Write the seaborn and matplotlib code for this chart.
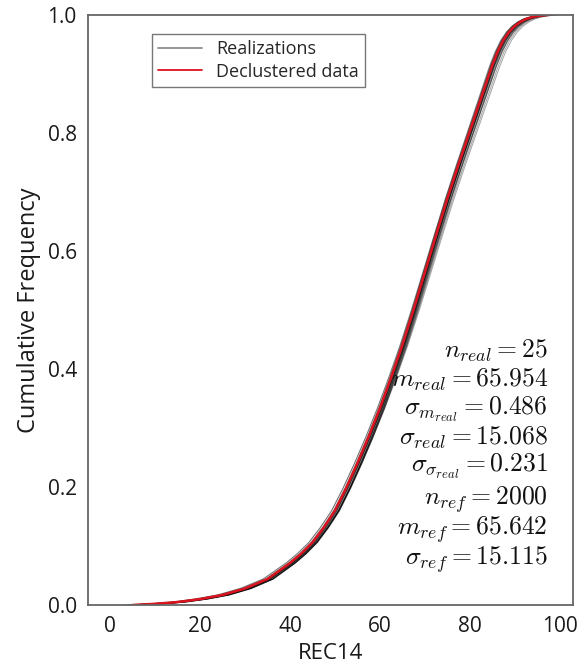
import numpy as np
import pandas as pd
import matplotlib
matplotlib.use("Agg")
import matplotlib.pyplot as plt
from matplotlib.lines import Line2D
import seaborn as sns

# Declustered reference distribution: REC14 value vs cumulative frequency
ref_values = [5.0, 10.0, 15.0, 20.0, 25.0, 30.0, 35.0, 40.0, 42.5, 45.0, 47.5,
              50.0, 52.5, 55.0, 57.5, 60.0, 62.5, 65.0, 67.5, 70.0, 72.5, 75.0,
              77.5, 80.0, 82.5, 85.0, 86.25, 87.5, 88.75, 90.0, 91.25, 92.5,
              93.75, 95.0, 96.25, 97.5]
ref_cdf = [0.0, 0.002, 0.005, 0.010, 0.017, 0.028, 0.044, 0.071, 0.087, 0.106,
           0.131, 0.160, 0.198, 0.240, 0.285, 0.333, 0.385, 0.440, 0.500, 0.563,
           0.626, 0.688, 0.746, 0.802, 0.858, 0.914, 0.938, 0.957, 0.971, 0.981,
           0.988, 0.993, 0.9960, 0.9980, 0.9993, 1.0]

# Per-realization mean and standard deviation
real_means = [65.42, 66.31, 65.88, 66.57, 65.21, 66.02, 65.76, 66.44, 65.97,
              65.33, 66.89, 65.64, 66.15, 65.91, 66.72, 65.48, 66.08, 65.59,
              66.38, 65.83, 66.21, 65.12, 66.63, 65.95, 66.19]
real_stds = [15.21, 14.85, 15.33, 14.97, 15.42, 15.06, 14.79, 15.18, 15.27,
             14.92, 15.51, 15.03, 14.71, 15.14, 15.36, 14.88, 15.09, 15.24,
             14.95, 15.01, 14.83, 15.29, 15.12, 14.66, 15.47]

# Summary statistics shown on the chart
n_real = 25
m_real = 65.954
sd_m_real = 0.486
sd_real = 15.068
sd_sd_real = 0.231
n_ref = 2000
m_ref = 65.642
sd_ref = 15.115

x_ticks = [0, 20, 40, 60, 80, 100]
y_ticks = [0.0, 0.2, 0.4, 0.6, 0.8, 1.0]

sns.set_style("white")
plt.rcParams["font.family"] = ["Open Sans", "DejaVu Sans"]
plt.rcParams["mathtext.fontset"] = "cm"

ref = pd.DataFrame({"value": ref_values, "cdf": ref_cdf})

frames = []
for i, (m, s) in enumerate(zip(real_means, real_stds)):
    frames.append(pd.DataFrame({
        "value": m + (ref["value"] - m_ref) * s / sd_ref,
        "cdf": ref["cdf"],
        "real": i,
    }))
reals = pd.concat(frames, ignore_index=True)

fig = plt.figure(figsize=(5.82, 6.69), dpi=100)
ax = fig.add_axes([0.151, 0.0957, 0.8335, 0.8819])

sns.lineplot(data=reals, x="value", y="cdf", units="real", estimator=None,
             sort=False, color="k", alpha=0.35, lw=0.7, ax=ax, legend=False)
sns.lineplot(data=ref, x="value", y="cdf", sort=False, estimator=None,
             color="#dc1420", lw=1.8, ax=ax, legend=False)

ax.set_xlim(-5, 103)
ax.set_ylim(0, 1)
ax.set_xticks(x_ticks)
ax.set_yticks(y_ticks)
ax.set_xticklabels([str(t) for t in x_ticks])
ax.set_yticklabels([f"{t:.1f}" for t in y_ticks])
ax.tick_params(labelsize=15, colors="#1a1a1a", length=0, pad=8)
ax.set_xlabel("REC14", fontsize=16, color="#1a1a1a", labelpad=4)
ax.set_ylabel("Cumulative Frequency", fontsize=17, color="#1a1a1a", labelpad=5)
for sp in ax.spines.values():
    sp.set_color("#666666")
    sp.set_linewidth(1.3)

handles = [Line2D([], [], color="k", alpha=0.45, lw=1.3),
           Line2D([], [], color="#dc1420", lw=1.3)]
leg = ax.legend(handles, ["Realizations", "Declustered data"],
                loc="upper left", bbox_to_anchor=(0.132, 0.968),
                borderaxespad=0, fontsize=13, frameon=True, fancybox=False,
                handlelength=2.4, borderpad=0.35, labelspacing=0.25)
leg.get_frame().set_edgecolor("#555555")
leg.get_frame().set_linewidth(1.0)

stat_lines = [
    (rf"$n_{{real}} = {n_real}$", 0.4186),
    (rf"$m_{{real}} = {m_real:.3f}$", 0.3695),
    (rf"$\sigma_{{m_{{real}}}} = {sd_m_real:.3f}$", 0.322),
    (rf"$\sigma_{{real}} = {sd_real:.3f}$", 0.271),
    (rf"$\sigma_{{\sigma_{{real}}}} = {sd_sd_real:.3f}$", 0.2254),
    (rf"$n_{{ref}} = {n_ref}$", 0.1695),
    (rf"$m_{{ref}} = {m_ref:.3f}$", 0.1186),
    (rf"$\sigma_{{ref}} = {sd_ref:.3f}$", 0.0678),
]
for txt, yy in stat_lines:
    ax.text(0.948, yy, txt, transform=ax.transAxes, ha="right",
            va="baseline", fontsize=18.5, color="#111111")

fig.savefig("out.png", dpi=100)
